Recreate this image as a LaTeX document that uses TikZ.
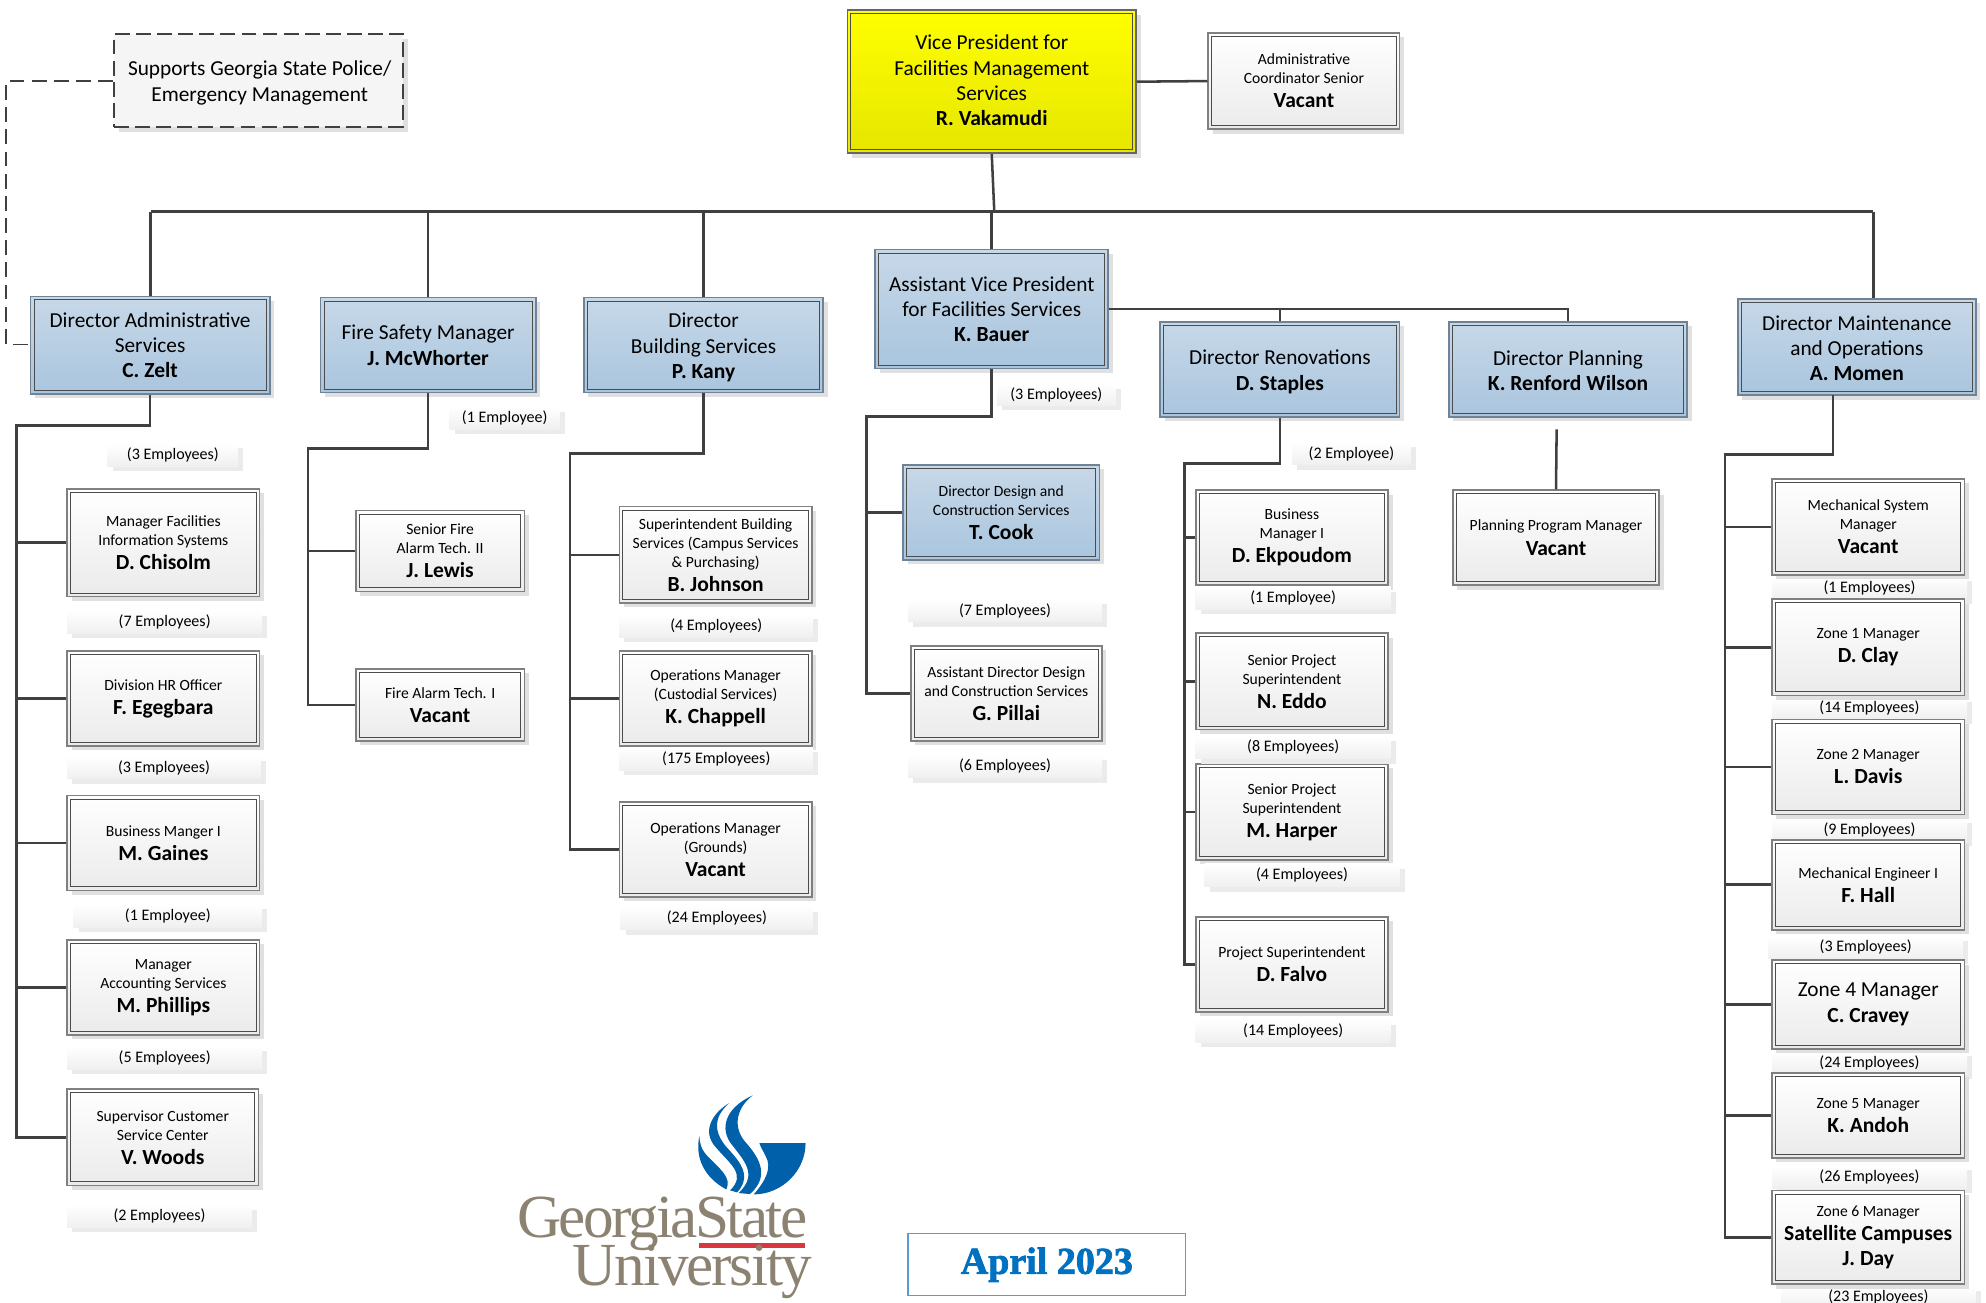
\documentclass[tikz,border=0pt]{standalone}
\usepackage{fontspec}
\setsansfont{Carlito}
\newfontfamily\logofont{Liberation Serif}
\usetikzlibrary{fit,calc}
\definecolor{shadowc}{HTML}{E0E0E0}
\definecolor{tagshadow}{HTML}{EBEBEB}
\definecolor{linec}{HTML}{404040}
\definecolor{gsublue}{HTML}{0060A9}
\definecolor{gsugrey}{HTML}{8C8272}
\definecolor{gsured}{HTML}{D9363E}
\definecolor{bluetop}{HTML}{C7D8E8}
\definecolor{bluebot}{HTML}{A9C5DE}
\definecolor{bluedge}{HTML}{6F8296}
\definecolor{datecol}{HTML}{0070C0}
\definecolor{dateedge}{HTML}{5B9BD5}
\newcommand\lgf{\fontsize{10.1}{12}\selectfont\mdseries}
\newcommand\smf{\fontsize{7.4}{9}\selectfont\mdseries}
\newcommand\nmf{\fontsize{10.2}{12}\selectfont\bfseries}
\newcommand\tshift{0}
\tikzset{
 orgbase/.style={inner sep=0pt,line width=0.8pt},
 orgtext/.style={inner sep=0pt,align=center,font=\sffamily,text=black},
 orgwhite/.style={orgbase,draw=black!50,top color=white,bottom color=black!8},
 orgblue/.style={orgbase,draw=bluedge,top color=bluetop,bottom color=bluebot},
 orgyellow/.style={orgbase,draw=black!60,top color=yellow,bottom color=yellow!90!black},
 orgdash/.style={orgbase,draw=black!75,dashed,dash pattern=on 7pt off 3pt,fill=black!4},
 tagbox/.style={inner sep=0pt,top color=white,bottom color=black!6},
 tagtext/.style={inner sep=0pt,font=\sffamily\fontsize{7.6}{9}\selectfont,text=black},
 conn/.style={draw=linec,line width=1.2pt},
 dashconn/.style={draw=black!75,line width=0.8pt,dashed,dash pattern=on 7pt off 3.5pt},
 innerline/.style={draw=black!70,line width=0.45pt},
}
\newcommand\obox[5]{%
 \fill[shadowc] ($(#3)+(3.5,3.5)$) rectangle ($(#4)+(3.5,3.5)$);
 \coordinate (#2-a) at (#3); \coordinate (#2-b) at (#4);
 \node[#1,fit=(#2-a)(#2-b)] (#2) {};
 \draw[innerline] ($(#2.south west)+(3.5,-3.5)$) rectangle ($(#2.north east)+(-3.5,3.5)$);
 \node[orgtext] (#2-t) at ($(#2.center)+(0,\tshift)$) {#5};
}
\newcommand\etag[4]{%
 \fill[tagshadow] ($(#2)+(4,4)$) rectangle ($(#3)+(4,4)$);
 \coordinate (#1-a) at (#2); \coordinate (#1-b) at (#3);
 \node[tagbox,fit=(#1-a)(#1-b)] (#1) {};
 \node[tagtext] (#1-t) at (#1.center) {#4};
}
\begin{document}
\begin{tikzpicture}[x=0.6pt,y=-0.6pt]
\useasboundingbox (0,0) rectangle (1568,1028.7);
% top
\renewcommand\tshift{-1}
\obox{orgyellow}{vp}{669,8}{897,121}{\lgf Vice President  for\\\lgf Facilities Management\\\lgf Services\\\nmf R. Vakamudi}
\renewcommand\tshift{0}
\obox{orgwhite}{adm}{954,26}{1105,102}{\smf Administrative\\[-3pt]\smf Coordinator Senior\\[-0.6pt]\nmf Vacant}
\fill[shadowc] (94,31) rectangle (322,104);
\coordinate (sup-a) at (90,27); \coordinate (sup-b) at (318,100);
\node[orgdash,fit=(sup-a)(sup-b)] (sup) {};
\node[orgtext] (sup-t) at ($(sup.center)+(1,2)$) {\lgf Supports Georgia State Police/\\\lgf Emergency Management};
% directors
\obox{orgblue}{zelt}{24,234}{213,311}{\lgf Director Administrative\\\lgf Services\\\nmf C. Zelt}
\obox{orgblue}{mcw}{253,235}{423,310}{\lgf Fire Safety Manager\\\nmf J. McWhorter}
\renewcommand\tshift{2}
\obox{orgblue}{kany}{461,235}{650,310}{\lgf Director\\\lgf Building Services\\\nmf P. Kany}
\obox{orgblue}{stap}{916,254}{1105,329}{\lgf Director Renovations\\\nmf D. Staples}
\renewcommand\tshift{1}
\obox{orgblue}{renf}{1144,254}{1332,329}{\lgf Director Planning\\\nmf K. Renford Wilson}
\obox{orgblue}{momen}{1372,236}{1560,312}{\lgf Director Maintenance\\\lgf and Operations\\\nmf A. Momen}
\renewcommand\tshift{0}
\obox{orgblue}{bauer}{691,197}{875,291}{\lgf Assistant Vice President\\\lgf for Facilities Services\\\nmf K. Bauer}
% Zelt column
\obox{orgwhite}{chis}{53,386}{205,471}{\smf Manager Facilities\\[-3pt]\smf Information Systems\\[-0.6pt]\nmf D. Chisolm}
\obox{orgwhite}{egeg}{53,514}{205,589}{\smf Division HR Officer\\[-0.6pt]\nmf F. Egegbara}
\obox{orgwhite}{gain}{53,628}{205,703}{\smf Business Manger I\\[-0.6pt]\nmf M. Gaines}
\obox{orgwhite}{phil}{53,742}{205,817}{\smf Manager\\[-3pt]\smf Accounting Services\\[-0.6pt]\nmf M. Phillips}
\obox{orgwhite}{wood}{53,860}{204,936}{\smf Supervisor Customer\\[-3pt]\smf Service Center\\[-0.6pt]\nmf V. Woods}
\etag{t1}{85,350}{188,368}{(3 Employees)}
\etag{t2}{53,482}{207,500}{(7 Employees)}
\etag{t3}{53,597}{206,615}{(3 Employees)}
\etag{t4}{58,714}{207,732}{(1 Employee)}
\etag{t5}{53,826}{207,844}{(5 Employees)}
\etag{t6}{53,951}{199,969}{(2 Employees)}
% McWhorter column
\obox{orgwhite}{lewi}{281,403}{414,467}{\smf Senior Fire\\[-3pt]\smf Alarm Tech. II\\[-0.6pt]\nmf J. Lewis}
\obox{orgwhite}{alrm}{281,528}{414,585}{\smf Fire Alarm Tech. I\\[-0.6pt]\nmf Vacant}
\etag{t7}{355,321}{442,339}{(1 Employee)}
% Kany column
\obox{orgwhite}{john}{489,400}{641,476}{\smf Superintendent Building\\[-3pt]\smf Services (Campus Services\\[-3pt]\smf \& Purchasing)\\[-0.6pt]\nmf B. Johnson}
\obox{orgwhite}{chap}{489,514}{641,589}{\smf Operations Manager\\[-3pt]\smf (Custodial Services)\\[-0.6pt]\nmf K. Chappell}
\obox{orgwhite}{grnd}{489,633}{641,708}{\smf Operations Manager\\[-3pt]\smf (Grounds)\\[-0.6pt]\nmf Vacant}
\etag{t8}{489,485}{642,503}{(4 Employees)}
\etag{t9}{489,590}{642,608}{(175 Employees)}
\etag{t10}{490,716}{642,734}{(24 Employees)}
% Bauer column
\obox{orgblue}{cook}{713,367}{868,442}{\smf Director Design and\\[-3pt]\smf Construction Services\\[-0.6pt]\nmf T. Cook}
\obox{orgwhite}{pill}{719,510}{870,585}{\smf Assistant Director Design\\[-3pt]\smf and Construction Services\\[-0.6pt]\nmf G. Pillai}
\etag{t11}{787,303}{881,320}{(3 Employees)}
\etag{t12}{717,473}{870,491}{(7 Employees)}
\etag{t13}{717,596}{870,614}{(6 Employees)}
% Staples column
\obox{orgwhite}{ekpo}{944,387}{1096,462}{\smf Business\\[-3pt]\smf Manager I\\[-0.6pt]\nmf D. Ekpoudom}
\obox{orgwhite}{eddo}{944,500}{1096,576}{\smf Senior Project\\[-3pt]\smf Superintendent\\[-0.6pt]\nmf N. Eddo}
\obox{orgwhite}{harp}{944,603}{1096,679}{\smf Senior Project\\[-3pt]\smf Superintendent\\[-0.6pt]\nmf M. Harper}
\obox{orgwhite}{falv}{944,724}{1096,799}{\smf Project Superintendent\\[-0.6pt]\nmf D. Falvo}
\etag{t14}{1020,349}{1114,367}{(2 Employee)}
\etag{t15}{944,463}{1098,481}{(1 Employee)}
\etag{t16}{944,581}{1098,599}{(8 Employees)}
\etag{t17}{951,682}{1105,700}{(4 Employees)}
\etag{t18}{944,805}{1098,823}{(14 Employees)}
% Planning
\obox{orgwhite}{plan}{1147,387}{1310,462}{\smf Planning Program Manager\\[-0.6pt]\nmf Vacant}
% Momen column
\etag{t19}{1399,455}{1553,473}{(1 Employees)}
\etag{t20}{1399,550}{1553,568}{(14 Employees)}
\etag{t21}{1399,646}{1553,664}{(9 Employees)}
\etag{t22}{1396,739}{1550,757}{(3 Employees)}
\etag{t23}{1399,830}{1553,848}{(24 Employees)}
\etag{t24}{1399,920}{1553,938}{(26 Employees)}
\etag{t25}{1406,1015}{1560,1033}{(23 Employees)}
\obox{orgwhite}{mech}{1399,378}{1551,454}{\smf Mechanical System\\[-3pt]\smf Manager\\[-0.6pt]\nmf Vacant}
\obox{orgwhite}{clay}{1399,473}{1551,549}{\smf Zone 1 Manager\\[-0.6pt]\nmf D. Clay}
\obox{orgwhite}{davi}{1399,568}{1551,643}{\smf Zone 2 Manager\\[-0.6pt]\nmf L. Davis}
\obox{orgwhite}{hall}{1399,663}{1551,734}{\smf Mechanical Engineer I\\[-0.6pt]\nmf F. Hall}
\obox{orgwhite}{crav}{1399,758}{1551,828}{\lgf Zone 4 Manager\\\nmf C. Cravey}
\obox{orgwhite}{ando}{1399,847}{1551,914}{\smf Zone 5 Manager\\[-0.6pt]\nmf K. Andoh}
\obox{orgwhite}{jday}{1399,940}{1551,1014}{\smf Zone 6 Manager\\[-0.6pt]\nmf Satellite Campuses\\\nmf J. Day}
% connectors: top
\coordinate (busL) at (119,167);
\coordinate (busR) at (1479,167);
\coordinate (busM) at (785,167);
\draw[conn] (vp.south) -- (busM);
\draw[conn] (vp.east) -- (adm.west);
\draw[conn] (busL) -- (busR);
\draw[conn] (busL) -- (busL |- zelt.north);
\draw[conn] (mcw.north) -- (mcw.north |- busL);
\draw[conn] (kany.north) -- (kany.north |- busL);
\draw[conn] (bauer.north) -- (bauer.north |- busL);
\draw[conn] (busR) -- (busR |- momen.north);
\coordinate (bauerR) at (1238,244);
\draw[conn] (bauer.east |- bauerR) -- (bauerR) -- (renf.north -| bauerR);
\draw[conn] (stap.north) -- (stap.north |- bauerR);
% dashed
\coordinate (dashc) at (5,64);
\coordinate (dashd) at (5,272);
\draw[dashconn] (sup.west |- dashc) -- (dashc) -- (dashd) -- (zelt.west |- dashd);
% Zelt tree
\coordinate (zt) at (13,336);
\coordinate (zb) at (13,898);
\draw[conn] (zelt.south) |- (zt) -- (zb) -- (wood.west |- zb);
\draw[conn] (zt |- chis.west) -- (chis.west);
\draw[conn] (zt |- egeg.west) -- (egeg.west);
\draw[conn] (zt |- gain.west) -- (gain.west);
\draw[conn] (zt |- phil.west) -- (phil.west);
% McWhorter tree
\coordinate (mt) at (243,354);
\draw[conn] (mcw.south) |- (mt) |- (alrm.west);
\draw[conn] (mt |- lewi.west) -- (lewi.west);
% Kany tree
\coordinate (kt) at (450,358);
\draw[conn] (kany.south) |- (kt) |- (grnd.west);
\draw[conn] (kt |- john.west) -- (john.west);
\draw[conn] (kt |- chap.west) -- (chap.west);
% Bauer tree
\coordinate (bt) at (684,329);
\draw[conn] (bauer.south) |- (bt) |- (pill.west);
\draw[conn] (bt |- cook.west) -- (cook.west);
% Staples tree
\coordinate (st) at (935,366);
\draw[conn] (stap.south) |- (st) |- (falv.west);
\draw[conn] (st |- ekpo.west) -- (ekpo.west);
\draw[conn] (st |- eddo.west) -- (eddo.west);
\draw[conn] (st |- harp.west) -- (harp.west);
% Planning
\coordinate (pt) at (1229,339);
\draw[conn] (pt) -- (plan.north);
% Momen tree
\coordinate (ot) at (1362,359);
\coordinate (os) at (1447,312);
\draw[conn] (os) |- (ot) |- (jday.west);
\draw[conn] (ot |- mech.west) -- (mech.west);
\draw[conn] (ot |- clay.west) -- (clay.west);
\draw[conn] (ot |- davi.west) -- (davi.west);
\draw[conn] (ot |- hall.west) -- (hall.west);
\draw[conn] (ot |- crav.west) -- (crav.west);
\draw[conn] (ot |- ando.west) -- (ando.west);
% logo
\begin{scope}[shift={(379,837)},x=0.2235pt,y=-0.159pt]
\fill[gsublue] (592,247) -- (690,247) .. controls (690,330) and (640,400) .. (580,400) .. controls (605,360) and (620,320) .. (605,285) .. controls (600,270) and (595,260) .. (592,247) -- cycle;
\fill[gsublue] (578,105) .. controls (530,135) and (505,190) .. (530,245) .. controls (560,300) and (590,340) .. (548,396) -- (572,399) .. controls (620,340) and (585,280) .. (560,240) .. controls (535,195) and (545,140) .. (578,105) -- cycle;
\fill[gsublue] (528,128) .. controls (490,160) and (470,215) .. (500,260) .. controls (530,310) and (565,340) .. (530,388) -- (545,394) .. controls (580,340) and (545,295) .. (520,255) .. controls (495,210) and (495,170) .. (528,128) -- cycle;
\fill[gsublue] (465,225) .. controls (455,290) and (475,350) .. (522,385) .. controls (535,350) and (505,320) .. (485,290) .. controls (470,270) and (465,250) .. (465,225) -- cycle;
\fill[gsured] (465,545) rectangle (688,560);
\end{scope}
\node[anchor=base west,inner sep=0,text=gsugrey,font=\logofont\fontsize{29}{29}\selectfont\addfontfeature{LetterSpace=-4.2}] (gsu1) at (408,977) {GeorgiaState};
\node[anchor=base west,inner sep=0,text=gsugrey,font=\logofont\fontsize{29}{29}\selectfont\addfontfeature{LetterSpace=-3.6}] (gsu2) at (452,1015) {University};
% date
\coordinate (dt-a) at (717,974); \coordinate (dt-b) at (936,1023);
\node[draw=dateedge,line width=0.7pt,inner sep=0,fit=(dt-a)(dt-b)] (date) {};
\node[inner sep=0,text=datecol,font=\logofont\bfseries\fontsize{18}{20}\selectfont\addfontfeature{FakeBold=2}] (date-t) at (date.center) {April 2023};
\end{tikzpicture}
\end{document}
